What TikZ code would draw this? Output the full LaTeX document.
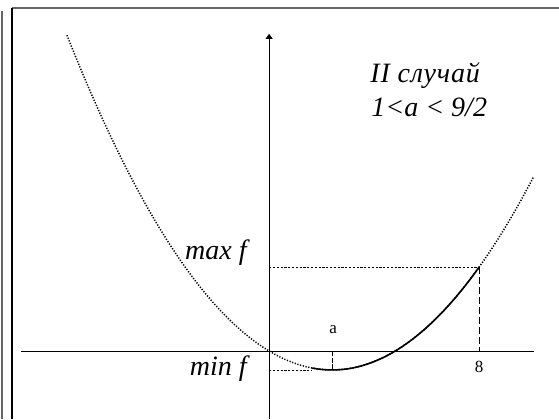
\documentclass[tikz,border=0pt]{standalone}
\usepackage{fontspec}
\setmainfont{Liberation Serif}[
    ItalicFont={Liberation Serif Italic},
    BoldFont={Liberation Serif Bold}]
\usepackage{tikz}
\usetikzlibrary{arrows.meta, positioning}

\tikzset{
    asse/.style={line width=1pt},
    curva/.style={line width=1.6pt},
    puntini/.style={line width=1.5pt, dash pattern=on 1.2pt off 1.6pt},
    tratteggio/.style={line width=0.8pt, dash pattern=on 2.2pt off 1.6pt},
    trattini/.style={line width=0.8pt, dash pattern=on 7pt off 3pt},
    grande/.style={font=\fontsize{28}{31}\selectfont\itshape},
    piccolo/.style={font=\fontsize{17}{19}\selectfont}
}

\begin{document}
\begin{tikzpicture}[x=26.25pt, y=26.25pt]
    \useasboundingbox (-10.25,-2.59) rectangle (11.04,13.37);

    % Cornice
    \draw[gray!80!black, line width=1.6pt] (-10.17,12.95) -- (-10.17,-2.59);
    \draw[gray!80!black, line width=1.6pt] (-9.79,13.07) -- (11.04,13.07);
    \draw[line width=1.2pt] (-9.79,13.07) -- (-9.79,-2.59);

    % Assi
    \coordinate (O) at (0,0);
    \coordinate (xl) at (-9.45,0);
    \coordinate (xr) at (10.1,0);
    \coordinate (yb) at (0,-2.59);
    \coordinate (yt) at (0,12.08);
    \draw[asse] (xl) -- (xr);
    \draw[asse, -{Triangle[length=5pt,width=7pt]}] (yb) -- (yt);

    % Parabola
    \draw[puntini] plot[domain=-7.7:10.06, samples=120] (\x, {0.125*\x*(\x-4.8)});
    \draw[curva] plot[domain=1.64:8, samples=80] (\x, {0.125*\x*(\x-4.8)});

    % Punti
    \coordinate (V) at (2.4,-0.72);
    \coordinate (Va) at (2.4,0);
    \coordinate (Vm) at (1.6,-0.72);
    \coordinate (Om) at (0,-0.72);
    \coordinate (P) at (8,3.2);
    \coordinate (P8) at (8,0);
    \coordinate (OM) at (0,3.2);

    \draw[tratteggio] (Om) -- (Vm);
    \draw[line width=0.6pt, dash pattern=on 5pt off 1.5pt] (Va) -- (V);
    \draw[tratteggio] (OM) -- (P);
    \draw[trattini] (P) -- (P8);

    % Etichette
    \node[grande, anchor=east] (maxf) at (-0.72,3.73) {max f};
    \node[grande, anchor=east] (minf) at (-0.72,-0.66) {min f};
    \node[piccolo] (lab_a) at (2.44,0.8) {a};
    \node[piccolo] (lab_8) at (8,-0.6) {8};
    \node[grande, anchor=west] (caso) at (3.72,10.5) {\addfontfeatures{LetterSpace=3}II случай};
    \node[grande, anchor=west] (cond) at (3.76,9.28) {1<a < 9/2};
\end{tikzpicture}
\end{document}
